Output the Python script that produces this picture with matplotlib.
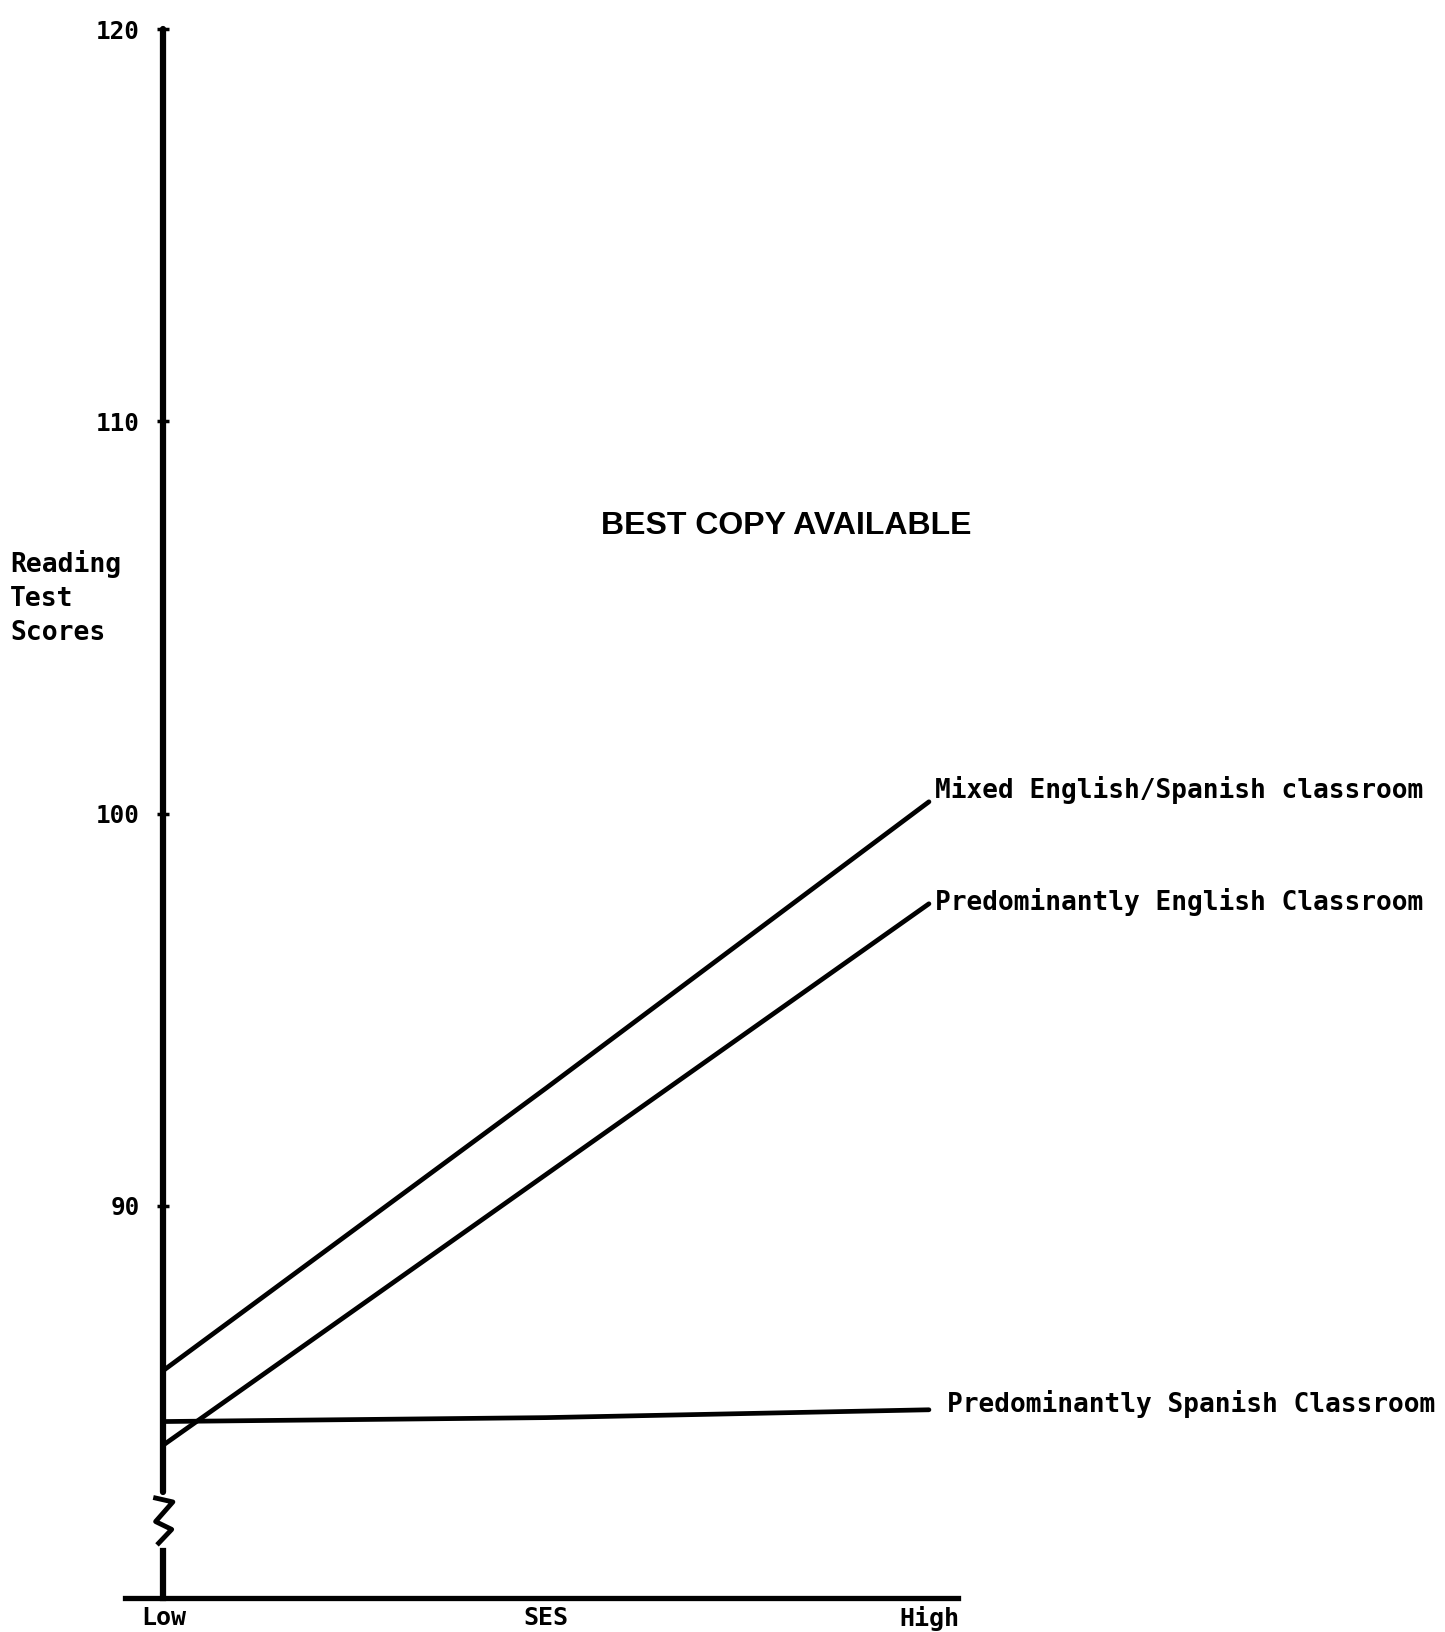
# Reading test scores by SES and classroom language mix (scanned figure redraw)
import numpy as np
import matplotlib
matplotlib.use("Agg")
import matplotlib.pyplot as plt

# --- data --------------------------------------------------------------------
ses_pos = [0, 1, 2]
ses_labels = ["Low", "SES", "High"]
mixed = [85.8, 93.0, 100.3]
english = [83.9, 90.8, 97.7]
spanish = [84.5, 84.6, 84.8]
series_names = ["Mixed English/Spanish classroom",
                "Predominantly English Classroom",
                "Predominantly Spanish Classroom"]
yticks = [90, 100, 110, 120]

MONO = "DejaVu Sans Mono"
INK = "black"

fig = plt.figure(figsize=(14.45, 16.32), dpi=100)
ax = fig.add_axes([0.0865, 0.0208, 0.5765, 0.9614])
ax.set_xlim(-0.1, 2.076)
ax.set_ylim(80, 120)

# axes: bottom spine as x axis, left spine hidden (broken axis drawn by hand)
for s in ["top", "right"]:
    ax.spines[s].set_visible(False)
ax.spines["bottom"].set_linewidth(3.8)
ax.spines["left"].set_position(("data", 0))
ax.spines["left"].set_visible(False)

# y axis with a break near the bottom
ax.plot([0, 0], [82.7, 120], color=INK, lw=4.5, solid_capstyle="round", clip_on=False)
ax.plot([-0.02, 0.025, -0.02, 0.022, -0.012], [82.55, 82.45, 81.95, 81.75, 81.4],
        color=INK, lw=3.5, solid_joinstyle="round", clip_on=False)
ax.plot([0, 0], [80, 81.2], color=INK, lw=4.5, clip_on=False)

# series
for vals in (mixed, english, spanish):
    ax.plot(ses_pos, vals, color=INK, lw=3.4, solid_capstyle="round", clip_on=False)

# end labels
ax.text(2.016, mixed[-1] + 0.3, series_names[0], fontsize=18.8, family=MONO,
        fontweight="bold", va="center", ha="left", clip_on=False)
ax.text(2.016, english[-1] + 0.05, series_names[1], fontsize=18.8, family=MONO,
        fontweight="bold", va="center", ha="left", clip_on=False)
ax.text(2.047, spanish[-1] + 0.15, series_names[2], fontsize=18.8, family=MONO,
        fontweight="bold", va="center", ha="left", clip_on=False)

# ticks
ax.set_yticks(yticks)
ax.set_yticklabels([str(t) for t in yticks], family=MONO, fontweight="bold", fontsize=17.5)
ax.tick_params(axis="y", direction="inout", length=8, width=2.5, pad=13)
ax.set_xticks(ses_pos)
ax.set_xticklabels(ses_labels, family=MONO, fontweight="bold", fontsize=18)
ax.tick_params(axis="x", length=0, pad=6)

fig.text(0.007, 0.6336, "Reading\nTest\nScores", family=MONO, fontweight="bold",
         fontsize=19, ha="left", va="center", linespacing=1.42)
fig.text(0.544, 0.6777, "BEST COPY AVAILABLE", family="Liberation Sans",
         fontweight="bold", fontsize=23, ha="center", va="center")

fig.savefig("out.png", dpi=100)
